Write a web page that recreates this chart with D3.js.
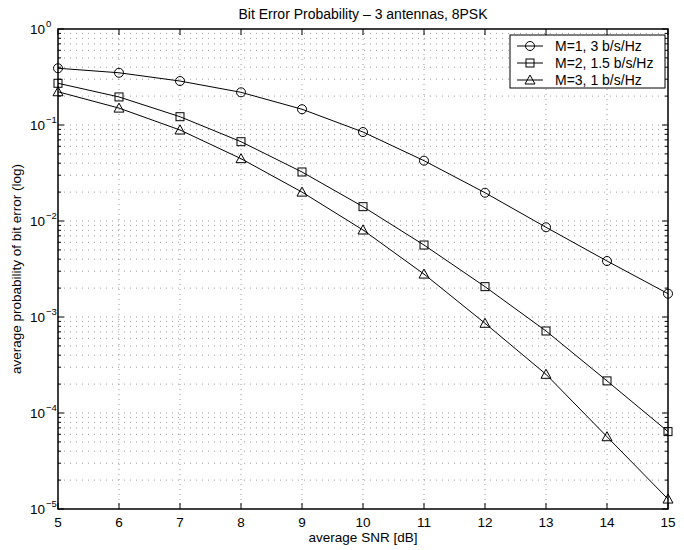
<!DOCTYPE html>
<html><head><meta charset="utf-8">
<script src="https://cdn.jsdelivr.net/npm/d3@7"></script>
<style>body{margin:0;background:#fff}svg{display:block}text{font-family:"Liberation Sans",Arial,Helvetica,sans-serif}</style>
</head><body>
<svg id="c" width="684" height="550"></svg>
<script>
const snr = [5,6,7,8,9,10,11,12,13,14,15];
const m1 = [0.39,0.35,0.287,0.219,0.146,0.0845,0.0425,0.0197,0.0086,0.00383,0.00175];
const m2 = [0.272,0.196,0.122,0.067,0.0324,0.0141,0.00562,0.00207,0.000715,0.000216,0.000064];
const m3 = [0.222,0.150,0.0887,0.0446,0.020,0.00806,0.0028,0.00086,0.000253,0.0000566,0.0000127];
const seriesNames = ["M=1, 3 b/s/Hz","M=2, 1.5 b/s/Hz","M=3, 1 b/s/Hz"];
const markers = ["circle","square","triangle"];
const xTicks = [5,6,7,8,9,10,11,12,13,14,15];
const yExps = [0,-1,-2,-3,-4,-5];
const title = "Bit Error Probability – 3 antennas, 8PSK";
const xLabel = "average SNR [dB]";
const yLabel = "average probability of bit error (log)";

const L=58,R=668,T=29,B=509;
const svg=d3.select("#c");
const x=d3.scaleLinear().domain([5,15]).range([L,R]);
const y=d3.scaleLog().domain([1e-5,1]).range([B,T]);

// grid
const g=svg.append("g");
const minor=[];
for(let e=-5;e<0;e++){for(let k=1;k<10;k++){minor.push(k*Math.pow(10,e));}}
minor.push(1);
g.selectAll(".hg").data(minor.filter(v=>v>1e-5&&v<1)).enter().append("line")
 .attr("x1",L).attr("x2",R).attr("y1",d=>y(d)).attr("y2",d=>y(d))
 .attr("stroke","#999").attr("stroke-width",1).attr("stroke-dasharray","1,5");
g.selectAll(".vg").data(xTicks.slice(1,-1)).enter().append("line")
 .attr("x1",d=>x(d)).attr("x2",d=>x(d)).attr("y1",T).attr("y2",B)
 .attr("stroke","#999").attr("stroke-width",1).attr("stroke-dasharray","1,4");

// ticks (inside) all four sides
const tk=svg.append("g").attr("stroke","#000").attr("stroke-width",1);
xTicks.forEach(v=>{
  tk.append("line").attr("x1",x(v)).attr("x2",x(v)).attr("y1",B).attr("y2",B-6);
  tk.append("line").attr("x1",x(v)).attr("x2",x(v)).attr("y1",T).attr("y2",T+6);
});
minor.forEach(v=>{
  const major=Math.abs(Math.log10(v)-Math.round(Math.log10(v)))<1e-9;
  const len=major?6:3;
  tk.append("line").attr("x1",L).attr("x2",L+len).attr("y1",y(v)).attr("y2",y(v));
  tk.append("line").attr("x1",R).attr("x2",R-len).attr("y1",y(v)).attr("y2",y(v));
});
svg.append("rect").attr("x",L).attr("y",T).attr("width",R-L).attr("height",B-T)
 .attr("fill","none").attr("stroke","#000").attr("stroke-width",1.5);

// tick labels
svg.selectAll(".xl").data(xTicks).enter().append("text")
 .attr("x",d=>x(d)).attr("y",527).attr("text-anchor","middle").attr("font-size",13.5).text(d=>d);
yExps.forEach(e=>{
  const ty=y(Math.pow(10,e));
  svg.append("text").attr("x",45).attr("y",ty+5).attr("text-anchor","end").attr("font-size",13.5).text("10");
  svg.append("text").attr("x",46).attr("y",ty-2).attr("font-size",9.5)
   .text(e===0?"0":"\u2212"+(-e));
});

// title & labels
svg.append("text").attr("x",(L+R)/2).attr("y",19).attr("text-anchor","middle").attr("font-size",14).text(title);
svg.append("text").attr("x",(L+R)/2).attr("y",542).attr("text-anchor","middle").attr("font-size",13.5).text(xLabel);
svg.append("text").attr("transform",`translate(21,${(T+B)/2}) rotate(-90)`).attr("text-anchor","middle").attr("font-size",13.5).text(yLabel);

function drawMarker(sel,type,cx,cy){
  if(type==="circle") sel.append("circle").attr("cx",cx).attr("cy",cy).attr("r",4.5).attr("fill","none").attr("stroke","#000");
  else if(type==="square") sel.append("rect").attr("x",cx-4).attr("y",cy-4).attr("width",8).attr("height",8).attr("fill","none").attr("stroke","#000");
  else sel.append("path").attr("d",`M${cx},${cy-5}L${cx+5},${cy+4}L${cx-5},${cy+4}Z`).attr("fill","none").attr("stroke","#000");
}

const all=[m1,m2,m3];
const line=d3.line().x((d,i)=>x(snr[i])).y(d=>y(d));
all.forEach((s,k)=>{
  svg.append("path").attr("d",line(s)).attr("fill","none").attr("stroke","#000").attr("stroke-width",1);
  const mg=svg.append("g");
  s.forEach((v,i)=>drawMarker(mg,markers[k],x(snr[i]),y(v)));
});

// legend
const lg=svg.append("g");
lg.append("rect").attr("x",510).attr("y",35).attr("width",155).attr("height",53).attr("fill","#fff").attr("stroke","#000").attr("stroke-width",1);
seriesNames.forEach((n,k)=>{
  const ly=46+k*17;
  lg.append("line").attr("x1",517).attr("x2",543).attr("y1",ly).attr("y2",ly).attr("stroke","#000");
  drawMarker(lg,markers[k],530,ly);
  lg.append("text").attr("x",555).attr("y",ly+5).attr("font-size",14).text(n);
});
</script>
</body></html>
